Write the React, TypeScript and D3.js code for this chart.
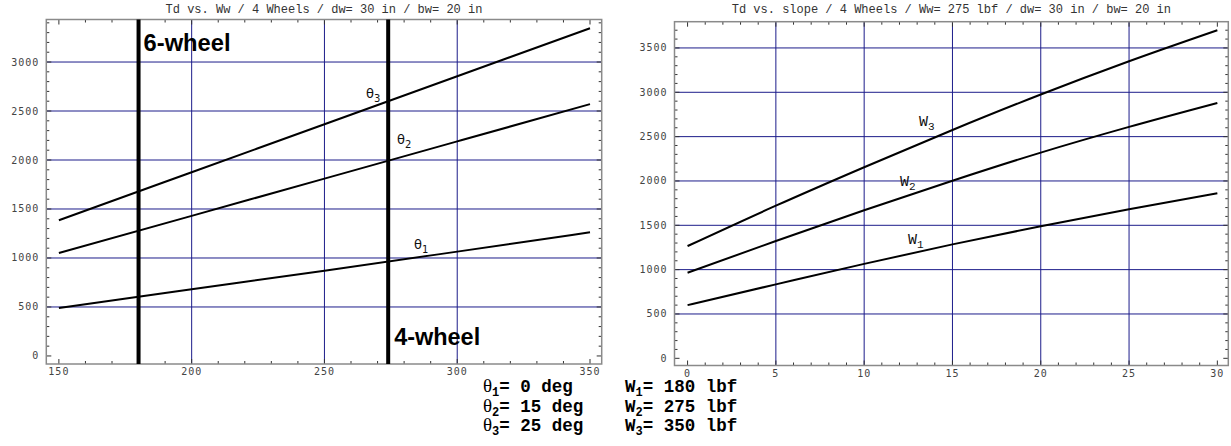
import React from "react";
import * as d3 from "d3";

// ---- data ----
const leftX = [150, 200, 250, 300, 350];
const theta1 = [490, 680, 870, 1065, 1262];
const theta2 = [1050, 1430, 1810, 2190, 2570];
const theta3 = [1385, 1875, 2365, 2855, 3345];
const wheelLines = [180, 274];
const wheelLabels = ["6-wheel", "4-wheel"];

const rightX = [0, 5, 10, 15, 20, 25, 30];
const w1 = [600, 834, 1065, 1285, 1490, 1680, 1862];
const w2 = [965, 1323, 1670, 2003, 2320, 2610, 2880];
const w3 = [1266, 1721, 2155, 2575, 2975, 3350, 3700];

const leftXTicks = [150, 200, 250, 300, 350];
const leftYTicks = [0, 500, 1000, 1500, 2000, 2500, 3000];
const rightXTicks = [0, 5, 10, 15, 20, 25, 30];
const rightYTicks = [0, 500, 1000, 1500, 2000, 2500, 3000, 3500];

const leftTitle = "Td vs. Ww / 4 Wheels / dw= 30 in / bw= 20 in";
const rightTitle = "Td vs. slope / 4 Wheels / Ww= 275 lbf / dw= 30 in / bw= 20 in";
const thetaLegend = ["= 0 deg", "= 15 deg", "= 25 deg"];
const wLegend = ["= 180 lbf", "= 275 lbf", "= 350 lbf"];

const GRID = "#1c1c8a";
const FRAME = "#8a8a8a";
const TICKTXT = "#444";
const MONO = "'Liberation Mono', 'DejaVu Sans Mono', monospace";
const TICKFONT = "'DejaVu Sans Mono', monospace";

function Panel({ x, y, xs, series, xTicks, yTicks, xMinorStep, yMinorStep, title, curve }) {
  const [x0, x1] = x.range();
  const [y0, y1] = y.range(); // y0 bottom, y1 top
  const line = d3
    .line<number>()
    .x((_, i) => x(xs[i]))
    .y((d) => y(d))
    .curve(curve);
  const xd = x.domain();
  const yd = y.domain();
  const xMinor = d3.range(Math.ceil(xd[0] / xMinorStep) * xMinorStep, xd[1], xMinorStep);
  const yMinor = d3.range(Math.ceil(yd[0] / yMinorStep) * yMinorStep, yd[1], yMinorStep);
  const isMajorX = (v) => xTicks.some((t) => Math.abs(t - v) < 1e-6);
  const isMajorY = (v) => yTicks.some((t) => Math.abs(t - v) < 1e-6);
  return (
    <g>
      <text x={(x0 + x1) / 2} y={13} textAnchor="middle" fontFamily={MONO} fontSize={12} fill="#333">
        {title}
      </text>
      {yTicks.filter((t) => t > 0).map((t) => (
        <line key={"gy" + t} x1={x0} x2={x1} y1={y(t)} y2={y(t)} stroke={GRID} strokeWidth={1} />
      ))}
      {xTicks.slice(1, -1).map((t) => (
        <line key={"gx" + t} x1={x(t)} x2={x(t)} y1={y0} y2={y1} stroke={GRID} strokeWidth={1} />
      ))}
      {xMinor.map((v) => {
        const len = isMajorX(v) ? 5 : 3;
        return (
          <g key={"tx" + v}>
            <line x1={x(v)} x2={x(v)} y1={y0} y2={y0 - len} stroke="#333" strokeWidth={1} />
            <line x1={x(v)} x2={x(v)} y1={y1} y2={y1 + len} stroke="#333" strokeWidth={1} />
          </g>
        );
      })}
      {yMinor.map((v) => {
        const len = isMajorY(v) ? 5 : 3;
        return (
          <g key={"ty" + v}>
            <line x1={x0} x2={x0 + len} y1={y(v)} y2={y(v)} stroke="#333" strokeWidth={1} />
            <line x1={x1} x2={x1 - len} y1={y(v)} y2={y(v)} stroke="#333" strokeWidth={1} />
          </g>
        );
      })}
      {xTicks.map((t) => (
        <text key={"lx" + t} x={x(t)} y={y0 + 11} textAnchor="middle" fontFamily={TICKFONT} fontSize={10} letterSpacing={1} fill={TICKTXT}>
          {t}
        </text>
      ))}
      {yTicks.map((t) => (
        <text key={"ly" + t} x={x0 - 7} y={y(t) + 3.5} textAnchor="end" fontFamily={TICKFONT} fontSize={10} letterSpacing={1} fill={TICKTXT}>
          {t}
        </text>
      ))}
      {series.map((s, i) => (
        <path key={"s" + i} d={line(s) || ""} fill="none" stroke="#000" strokeWidth={2} />
      ))}
      <rect x={x0} y={y1} width={x1 - x0} height={y0 - y1} fill="none" stroke={FRAME} strokeWidth={1.5} />
    </g>
  );
}

export default function App() {
  const lx = d3.scaleLinear().domain([145.26, 354.4]).range([46.3, 601.7]);
  const ly = d3.scaleLinear().domain([-82, 3434]).range([364, 19.5]);
  const rx = d3.scaleLinear().domain([-0.74, 30.62]).range([674.5, 1228.3]);
  const ry = d3.scaleLinear().domain([-81, 3796]).range([365.5, 21.7]);

  const thetaLabels = [
    { sub: "3", x: 366, y: 98 },
    { sub: "2", x: 397, y: 144 },
    { sub: "1", x: 414, y: 249 },
  ];
  const wLabels = [
    { sub: "3", x: 919, y: 126 },
    { sub: "2", x: 900, y: 186 },
    { sub: "1", x: 908, y: 244 },
  ];

  return (
    <svg width={1231} height={446} style={{ position: "absolute", left: 0, top: 0, background: "#fff" }}>
      <Panel
        x={lx}
        y={ly}
        xs={leftX}
        series={[theta1, theta2, theta3]}
        xTicks={leftXTicks}
        yTicks={leftYTicks}
        xMinorStep={10}
        yMinorStep={100}
        title={leftTitle}
        curve={d3.curveMonotoneX}
      />
      {wheelLines.map((w, i) => (
        <line key={"wl" + i} x1={lx(w)} x2={lx(w)} y1={ly.range()[1]} y2={ly.range()[0]} stroke="#000" strokeWidth={4} />
      ))}
      <text x={lx(wheelLines[0]) + 5} y={51} fontFamily="'Liberation Sans', Arial, sans-serif" fontWeight="bold" fontSize={23} textLength={87} lengthAdjust="spacingAndGlyphs">
        {wheelLabels[0]}
      </text>
      <text x={lx(wheelLines[1]) + 6} y={345} fontFamily="'Liberation Sans', Arial, sans-serif" fontWeight="bold" fontSize={23} textLength={86} lengthAdjust="spacingAndGlyphs">
        {wheelLabels[1]}
      </text>
      {thetaLabels.map((l) => (
        <text key={"tl" + l.sub} x={l.x} y={l.y} fontFamily="'DejaVu Sans', sans-serif" fontSize={13} fill="#111">
          θ<tspan dy={4} fontSize={10}>{l.sub}</tspan>
        </text>
      ))}

      <Panel
        x={rx}
        y={ry}
        xs={rightX}
        series={[w1, w2, w3]}
        xTicks={rightXTicks}
        yTicks={rightYTicks}
        xMinorStep={1}
        yMinorStep={100}
        title={rightTitle}
        curve={d3.curveMonotoneX}
      />
      {wLabels.map((l) => (
        <text key={"wlb" + l.sub} x={l.x} y={l.y} fontFamily={MONO} fontSize={15} fill="#111">
          W<tspan dy={4} fontSize={11}>{l.sub}</tspan>
        </text>
      ))}

      {thetaLegend.map((t, i) => (
        <text key={"tleg" + i} x={483} y={392 + i * 19.5} fontFamily={MONO} fontWeight="bold" fontSize={17.5} fill="#000">
          <tspan fontFamily="'Liberation Serif', 'DejaVu Serif', serif" fontWeight="normal" fontSize={19}>θ</tspan>
          <tspan dy={4} fontSize={12}>{String(i + 1)}</tspan>
          <tspan dy={-4}>{t}</tspan>
        </text>
      ))}
      {wLegend.map((t, i) => (
        <text key={"wleg" + i} x={625} y={392 + i * 19.5} fontFamily={MONO} fontWeight="bold" fontSize={17.5} fill="#000">
          W<tspan dy={4} fontSize={12}>{String(i + 1)}</tspan>
          <tspan dy={-4}>{t}</tspan>
        </text>
      ))}
    </svg>
  );
}
